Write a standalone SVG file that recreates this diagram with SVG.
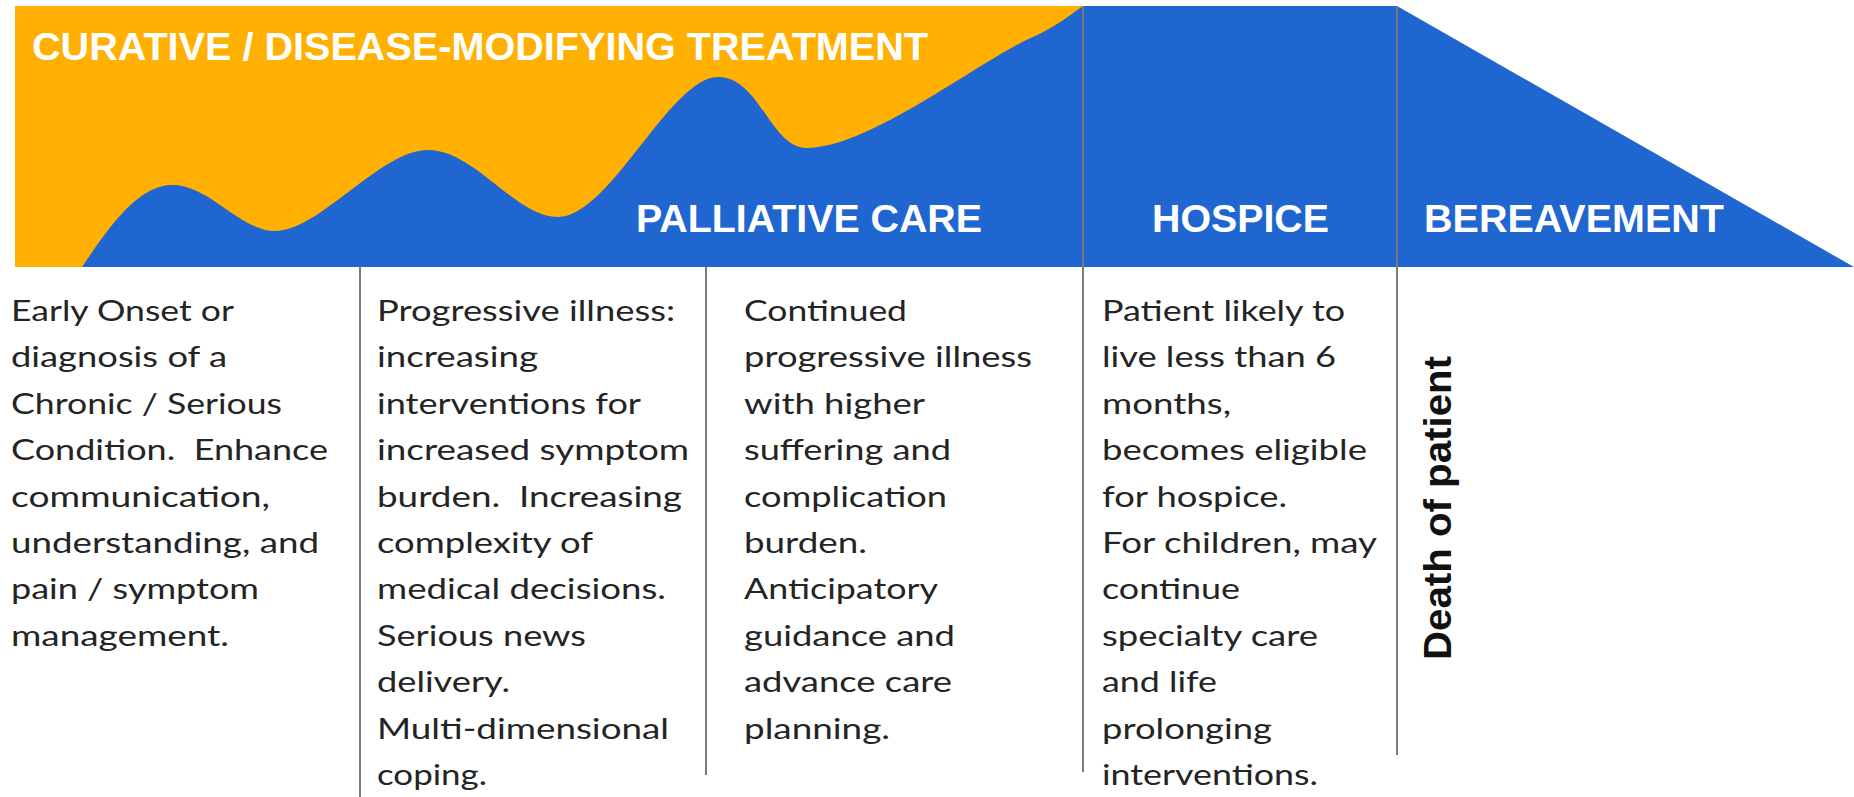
<svg xmlns="http://www.w3.org/2000/svg" width="1854" height="797" viewBox="0 0 1854 797">
  <style>
    .band-label { font-family: "Liberation Sans", Arial, sans-serif; font-weight: bold; font-size: 39px; fill: #ffffff; }
    .body { font-family: "Lato", "Open Sans", sans-serif; font-size: 29px; fill: #242424; white-space: pre; }
    .death { font-family: "Liberation Sans", Arial, sans-serif; font-weight: bold; font-size: 38px; fill: #111111; }
    .divider { stroke: #7a7a7a; stroke-width: 2; fill: none; }
  </style>
  <rect x="0" y="0" width="1854" height="797" fill="#ffffff"/>

  <g id="curative">
    <rect x="15" y="6" width="1068" height="261" fill="#FFB000"/>
  </g>

  <g id="palliative">
    <path d="M 82,267 C 112,222 140,185 172,185 C 210,185 240,231 275,231 C 320,231 380,150 428,150 C 475,150 515,217 558,217 C 610,217 670,77 718,77 C 760,77 770,148 807,148 C 870,148 980,60 1033,37 C 1055,27 1070,15 1083,6 L 1083,267 Z" fill="#1F66D1"/>
  </g>

  <g id="hospice">
    <rect x="1083" y="6" width="314" height="261" fill="#1F66D1"/>
  </g>

  <g id="bereavement">
    <polygon points="1397,6 1854,267 1397,267" fill="#1F66D1"/>
  </g>

  <g id="connectors">
    <line class="divider" x1="360" y1="267" x2="360" y2="797"/>
    <line class="divider" x1="706" y1="267" x2="706" y2="775"/>
    <line class="divider" x1="1083" y1="6" x2="1083" y2="772"/>
    <line class="divider" x1="1397" y1="6" x2="1397" y2="755"/>
  </g>

  <g id="labels">
    <text class="band-label" x="32" y="60" textLength="896" lengthAdjust="spacingAndGlyphs">CURATIVE / DISEASE-MODIFYING TREATMENT</text>
    <text class="band-label" x="636" y="232" textLength="346" lengthAdjust="spacingAndGlyphs">PALLIATIVE CARE</text>
    <text class="band-label" x="1152" y="232" textLength="177" lengthAdjust="spacingAndGlyphs">HOSPICE</text>
    <text class="band-label" x="1424" y="232" textLength="300" lengthAdjust="spacingAndGlyphs">BEREAVEMENT</text>
  </g>

  <g id="stage-early">
    <text class="body" x="11" y="321" textLength="223" lengthAdjust="spacingAndGlyphs">Early Onset or</text>
    <text class="body" x="11" y="367" textLength="216" lengthAdjust="spacingAndGlyphs">diagnosis of a</text>
    <text class="body" x="11" y="414" textLength="271" lengthAdjust="spacingAndGlyphs">Chronic / Serious</text>
    <text class="body" x="11" y="460" textLength="317" lengthAdjust="spacingAndGlyphs">Condition.  Enhance</text>
    <text class="body" x="11" y="507" textLength="259" lengthAdjust="spacingAndGlyphs">communication,</text>
    <text class="body" x="11" y="553" textLength="308" lengthAdjust="spacingAndGlyphs">understanding, and</text>
    <text class="body" x="11" y="599" textLength="248" lengthAdjust="spacingAndGlyphs">pain / symptom</text>
    <text class="body" x="11" y="646" textLength="218" lengthAdjust="spacingAndGlyphs">management.</text>
  </g>

  <g id="stage-progressive">
    <text class="body" x="377" y="321" textLength="298" lengthAdjust="spacingAndGlyphs">Progressive illness:</text>
    <text class="body" x="377" y="367" textLength="161" lengthAdjust="spacingAndGlyphs">increasing</text>
    <text class="body" x="377" y="414" textLength="264" lengthAdjust="spacingAndGlyphs">interventions for</text>
    <text class="body" x="377" y="460" textLength="312" lengthAdjust="spacingAndGlyphs">increased symptom</text>
    <text class="body" x="377" y="507" textLength="305" lengthAdjust="spacingAndGlyphs">burden.  Increasing</text>
    <text class="body" x="377" y="553" textLength="216" lengthAdjust="spacingAndGlyphs">complexity of</text>
    <text class="body" x="377" y="599" textLength="289" lengthAdjust="spacingAndGlyphs">medical decisions.</text>
    <text class="body" x="377" y="646" textLength="209" lengthAdjust="spacingAndGlyphs">Serious news</text>
    <text class="body" x="377" y="692" textLength="133" lengthAdjust="spacingAndGlyphs">delivery.</text>
    <text class="body" x="377" y="739" textLength="292" lengthAdjust="spacingAndGlyphs">Multi-dimensional</text>
    <text class="body" x="377" y="785" textLength="110" lengthAdjust="spacingAndGlyphs">coping.</text>
  </g>

  <g id="stage-continued">
    <text class="body" x="744" y="321" textLength="163" lengthAdjust="spacingAndGlyphs">Continued</text>
    <text class="body" x="744" y="367" textLength="288" lengthAdjust="spacingAndGlyphs">progressive illness</text>
    <text class="body" x="744" y="414" textLength="181" lengthAdjust="spacingAndGlyphs">with higher</text>
    <text class="body" x="744" y="460" textLength="207" lengthAdjust="spacingAndGlyphs">suffering and</text>
    <text class="body" x="744" y="507" textLength="203" lengthAdjust="spacingAndGlyphs">complication</text>
    <text class="body" x="744" y="553" textLength="123" lengthAdjust="spacingAndGlyphs">burden.</text>
    <text class="body" x="744" y="599" textLength="194" lengthAdjust="spacingAndGlyphs">Anticipatory</text>
    <text class="body" x="744" y="646" textLength="211" lengthAdjust="spacingAndGlyphs">guidance and</text>
    <text class="body" x="744" y="692" textLength="208" lengthAdjust="spacingAndGlyphs">advance care</text>
    <text class="body" x="744" y="739" textLength="146" lengthAdjust="spacingAndGlyphs">planning.</text>
  </g>

  <g id="stage-hospice">
    <text class="body" x="1102" y="321" textLength="243" lengthAdjust="spacingAndGlyphs">Patient likely to</text>
    <text class="body" x="1102" y="367" textLength="234" lengthAdjust="spacingAndGlyphs">live less than 6</text>
    <text class="body" x="1102" y="414" textLength="129" lengthAdjust="spacingAndGlyphs">months,</text>
    <text class="body" x="1102" y="460" textLength="265" lengthAdjust="spacingAndGlyphs">becomes eligible</text>
    <text class="body" x="1102" y="507" textLength="185" lengthAdjust="spacingAndGlyphs">for hospice.</text>
    <text class="body" x="1102" y="553" textLength="275" lengthAdjust="spacingAndGlyphs">For children, may</text>
    <text class="body" x="1102" y="599" textLength="138" lengthAdjust="spacingAndGlyphs">continue</text>
    <text class="body" x="1102" y="646" textLength="216" lengthAdjust="spacingAndGlyphs">specialty care</text>
    <text class="body" x="1102" y="692" textLength="115" lengthAdjust="spacingAndGlyphs">and life</text>
    <text class="body" x="1102" y="739" textLength="170" lengthAdjust="spacingAndGlyphs">prolonging</text>
    <text class="body" x="1102" y="785" textLength="216" lengthAdjust="spacingAndGlyphs">interventions.</text>
  </g>

  <g id="stage-death">
    <text class="death" transform="translate(1451,660) rotate(-90)" x="0" y="0" textLength="304" lengthAdjust="spacingAndGlyphs">Death of patient</text>
  </g>
</svg>
